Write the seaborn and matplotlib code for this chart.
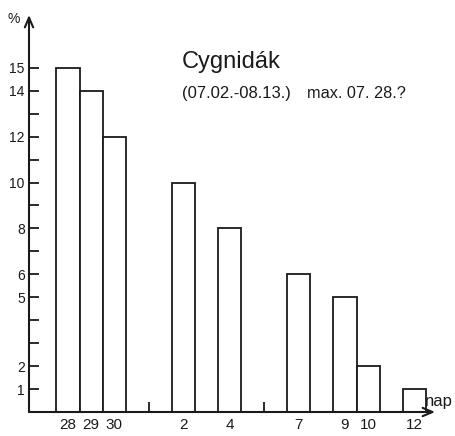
import pandas as pd
import matplotlib.pyplot as plt
import seaborn as sns

# ===== Adatok (napok 07.28-tol szamolva, hianyzo napokon nincs oszlop) =====
day_offsets = [0, 1, 2, 5, 7, 10, 12, 13, 15]
day_labels = ["28", "29", "30", "2", "4", "7", "9", "10", "12"]
percent = [15, 14, 12, 10, 8, 6, 5, 2, 1]

y_ticks = list(range(1, 16))
y_labeled = [1, 2, 5, 6, 8, 10, 12, 14, 15]
month_marks = [3.5, 8.5]   # honaphatar / 5 napos jelolok

title = "Cygnidák"
subtitle_left = "(07.02.-08.13.)"
subtitle_right = "max. 07. 28.?"

ink = "#1a1a1a"

sns.set_style("ticks")
plt.rcParams["font.family"] = ["Liberation Sans", "DejaVu Sans"]
plt.rcParams["text.color"] = ink

df = pd.DataFrame({"nap": day_offsets, "pct": percent})

fig = plt.figure(figsize=(4.55, 4.36), dpi=100)
ax = fig.add_axes([29 / 455, 24 / 436, (435 - 29) / 455, (412 - 15) / 436])

sns.barplot(
    data=df, x="nap", y="pct",
    native_scale=True, width=1.0,
    color="white", saturation=1,
    edgecolor=ink, linewidth=1.3,
    errorbar=None, ax=ax,
)

ax.set_xlim(-1.69, 15.9)
ax.set_ylim(0, 17.3)
ax.set_xlabel("")
ax.set_ylabel("")

for s in ax.spines.values():
    s.set_visible(False)

# tengelyek nyillal
arrow = dict(arrowstyle="->,head_length=0.7,head_width=0.3", lw=1.5,
             color=ink, shrinkA=0, shrinkB=0)
ax.annotate("", xy=(1, 0), xytext=(0, 0), xycoords="axes fraction",
            arrowprops=arrow, annotation_clip=False)
ax.annotate("", xy=(0, 1), xytext=(0, 0), xycoords="axes fraction",
            arrowprops=arrow, annotation_clip=False)

# y tengely
ax.set_yticks(y_ticks)
ax.set_yticklabels([str(v) if v in y_labeled else "" for v in y_ticks])
ax.tick_params(axis="y", left=True, direction="in", length=7, width=1.3,
               pad=3, labelsize=10, colors=ink)

# x tengely
ax.set_xticks(day_offsets)
ax.set_xticklabels(day_labels)
ax.set_xticks(month_marks, minor=True)
ax.tick_params(axis="x", which="major", length=0, pad=4, labelsize=11,
               colors=ink)
ax.tick_params(axis="x", which="minor", bottom=True, direction="in",
               length=7, width=1.3, color=ink)

fig.text(14 / 455, 1 - 19 / 436, "%", ha="center", va="center", fontsize=10)
fig.text(425 / 455, 1 - 401 / 436, "nap", ha="left", va="center", fontsize=12)

fig.text(182 / 455, 1 - 68 / 436, title, ha="left", va="baseline", fontsize=17)
fig.text(182 / 455, 1 - 98 / 436, subtitle_left, ha="left", va="baseline",
         fontsize=12)
fig.text(307 / 455, 1 - 98 / 436, subtitle_right, ha="left", va="baseline",
         fontsize=11.7)

fig.savefig("out.png", dpi=100)
